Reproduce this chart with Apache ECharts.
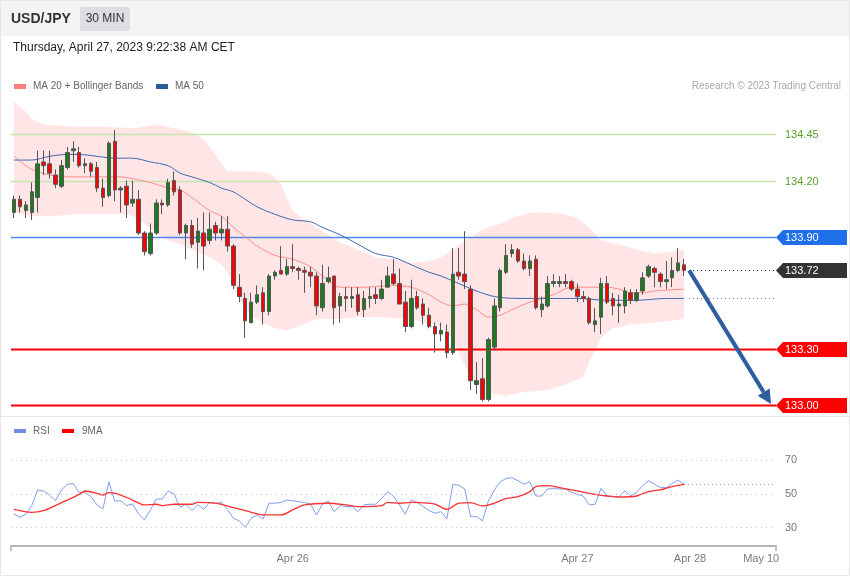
<!DOCTYPE html>
<html><head><meta charset="utf-8">
<script src="https://cdn.jsdelivr.net/npm/echarts@6/dist/echarts.min.js"></script>
<style>html,body{margin:0;padding:0;background:#fff}#c{width:850px;height:576px}</style>
</head><body><div id="c"></div><script>
// ---------- data ----------
const categoryCount = 129;
const xTickIndex = [47, 95, 114, 126];
const xTickLabel = ['Apr 26', 'Apr 27', 'Apr 28', 'May 10'];

const open = [134.03,134.10,134.04,134.03,134.11,134.30,134.29,134.23,134.17,134.27,134.36,134.35,134.28,134.29,134.27,134.16,134.12,134.41,134.15,134.17,
134.08,134.10,133.92,133.81,133.92,134.08,134.07,134.20,134.15,133.92,133.96,133.87,133.92,133.88,133.96,133.92,133.94,133.85,133.63,133.57,
133.44,133.55,133.60,133.50,133.69,133.72,133.70,133.74,133.73,133.72,133.71,133.69,133.52,133.66,133.69,133.53,133.58,133.57,133.59,133.51,
133.57,133.59,133.57,133.63,133.70,133.65,133.55,133.42,133.58,133.54,133.48,133.42,133.38,133.39,133.28,133.71,133.70,133.62,133.11,133.14,
133.03,133.31,133.52,133.71,133.81,133.83,133.77,133.73,133.78,133.51,133.53,133.65,133.65,133.66,133.66,133.62,133.58,133.57,133.43,133.47,
133.65,133.57,133.53,133.53,133.60,133.56,133.61,133.69,133.73,133.70,133.66,133.68,133.72,133.75];
const close = [134.10,134.06,134.07,134.14,134.29,134.28,134.24,134.18,134.28,134.35,134.37,134.28,134.29,134.25,134.16,134.11,134.40,134.15,134.16,134.07,
134.10,133.92,133.82,133.92,134.08,134.07,134.19,134.14,133.92,133.96,133.86,133.93,133.85,133.94,133.92,133.94,133.85,133.64,133.58,133.45,
133.55,133.59,133.50,133.69,133.71,133.70,133.74,133.73,133.72,133.71,133.69,133.53,133.65,133.68,133.52,133.58,133.57,133.58,133.50,133.57,
133.58,133.57,133.62,133.69,133.65,133.54,133.42,133.57,133.52,133.48,133.42,133.38,133.40,133.28,133.70,133.69,133.66,133.13,133.13,133.03,
133.35,133.53,133.72,133.80,133.83,133.77,133.73,133.77,133.52,133.54,133.65,133.66,133.66,133.65,133.62,133.58,133.57,133.44,133.45,133.65,
133.55,133.53,133.54,133.61,133.56,133.60,133.68,133.74,133.71,133.66,133.67,133.72,133.76,133.72];
const low = [134.00,134.03,134.00,133.99,134.03,134.23,134.21,134.16,134.16,134.26,134.30,134.27,134.24,134.22,134.14,134.06,134.11,134.09,134.03,134.00,
134.06,133.91,133.80,133.80,133.91,134.02,134.06,134.12,133.91,133.78,133.84,133.73,133.72,133.86,133.88,133.88,133.82,133.62,133.55,133.36,
133.44,133.54,133.43,133.48,133.67,133.70,133.69,133.71,133.67,133.60,133.63,133.48,133.50,133.65,133.43,133.44,133.50,133.52,133.48,133.47,
133.52,133.54,133.56,133.63,133.64,133.54,133.39,133.41,133.51,133.43,133.41,133.28,133.34,133.25,133.27,133.67,133.62,133.08,133.06,133.02,
133.02,133.29,133.50,133.70,133.79,133.76,133.72,133.69,133.51,133.47,133.52,133.63,133.63,133.63,133.61,133.55,133.55,133.43,133.39,133.38,
133.54,133.48,133.44,133.49,133.54,133.55,133.59,133.68,133.63,133.63,133.62,133.63,133.71,133.69];
const high = [134.12,134.12,134.09,134.19,134.36,134.36,134.36,134.26,134.31,134.38,134.41,134.38,134.32,134.30,134.30,134.21,134.41,134.47,134.17,134.20,
134.20,134.15,133.93,133.97,134.10,134.10,134.21,134.25,134.17,133.97,133.99,134.00,134.03,134.03,133.98,134.01,134.01,133.86,133.70,133.60,
133.60,133.64,133.63,133.70,133.72,133.85,133.78,133.86,133.74,133.74,133.74,133.71,133.75,133.74,133.69,133.60,133.63,133.63,133.63,133.61,
133.63,133.63,133.67,133.74,133.78,133.73,133.61,133.67,133.61,133.57,133.52,133.44,133.44,133.43,133.84,133.84,133.93,133.64,133.23,133.25,
133.36,133.57,133.73,133.86,133.86,133.84,133.81,133.80,133.80,133.58,133.69,133.70,133.69,133.70,133.67,133.65,133.61,133.58,133.52,133.68,
133.69,133.60,133.59,133.63,133.62,133.62,133.71,133.75,133.74,133.71,133.77,133.79,133.84,133.78];

const ma20Idx = [0,2,3,6,9,12,15,18,20,23,26,28,30,33,35,37,39,41,44,47,50,52,55,59,64,67,70,72,74,76,78,80,82,84,87,91,94,97,100,102,104,106,108,113];
const ma20 = [134.33,134.28,134.26,134.23,134.22,134.22,134.22,134.22,134.21,134.19,134.16,134.15,134.11,134.04,134.01,133.95,133.90,133.85,133.80,133.78,
133.74,133.69,133.63,133.63,133.64,133.63,133.59,133.55,133.53,133.54,133.51,133.47,133.48,133.51,133.55,133.59,133.63,133.63,133.63,133.62,133.60,133.60,133.61,133.62];

const ma50Idx = [0,3,6,9,11,14,17,20,23,26,28,30,33,35,37,39,41,44,47,50,52,55,58,61,64,67,70,72,75,78,81,85,90,95,100,105,110,113];
const ma50 = [134.31,134.31,134.33,134.34,134.34,134.33,134.32,134.32,134.30,134.28,134.24,134.22,134.19,134.16,134.14,134.10,134.06,134.02,133.99,133.98,
133.95,133.91,133.86,133.81,133.79,133.75,133.71,133.69,133.65,133.61,133.58,133.57,133.57,133.57,133.56,133.56,133.57,133.57];

const bbUpperIdx = [0,2,3,5,10,15,20,22,24,27,30,32,34,35,36,40,43,44,45,46,47,49,51,53,55,58,61,64,67,70,72,74,76,78,80,82,84,87,90,93,95,97,99,102,105,108,111,113];
const bbUpper = [134.62,134.57,134.53,134.50,134.49,134.49,134.48,134.49,134.50,134.48,134.46,134.42,134.34,134.29,134.25,134.25,134.24,134.22,134.18,134.11,
134.04,133.99,133.95,133.91,133.87,133.83,133.79,133.78,133.76,133.77,133.79,133.83,133.88,133.92,133.95,133.97,134.00,134.03,134.03,134.02,
134.00,133.95,133.88,133.86,133.83,133.81,133.82,133.83];
const bbLowerIdx = [0,3,6,10,15,19,21,23,26,28,30,33,35,36,37,38,40,42,44,46,48,51,55,58,62,66,70,72,74,75,76,77,79,81,83,86,90,93,96,97,98,99,101,104,108,113];
const bbLower = [134.03,134.01,134.01,134.02,134.02,134.02,134.00,133.94,133.88,133.86,133.83,133.79,133.75,133.71,133.64,133.56,133.48,133.44,133.41,133.40,
133.42,133.46,133.46,133.47,133.47,133.46,133.44,133.42,133.35,133.28,133.21,133.15,133.09,133.06,133.05,133.07,133.08,133.11,133.15,133.23,
133.29,133.36,133.41,133.43,133.44,133.46];

const rsi = [38.1,36.1,37.9,43.1,52.4,51.8,49.4,46.0,52.4,55.7,56.3,50.8,51.0,48.4,43.5,41.1,57.3,45.8,46.0,43.1,
44.1,38.1,34.6,40.5,47.0,47.0,51.8,50.0,42.1,43.9,40.1,43.5,40.9,45.0,44.3,45.0,40.9,35.5,34.0,30.2,
35.5,37.5,35.0,44.5,44.5,44.9,46.4,46.0,45.4,44.9,43.9,37.5,43.9,45.8,39.5,43.1,42.5,42.5,39.5,43.5,
43.9,43.9,47.4,51.4,48.8,43.5,37.9,46.4,45.0,42.5,40.1,38.5,39.5,35.1,55.7,55.3,53.0,36.5,36.5,34.0,
45.8,52.4,57.3,59.3,59.7,57.9,55.9,57.3,48.8,48.8,53.0,53.2,53.0,53.0,51.0,49.8,48.8,43.5,43.9,53.4,
48.8,48.4,48.4,51.8,49.0,51.0,55.0,57.9,55.9,53.8,53.8,56.3,58.3,55.7];
const rsiMaIdx = [0,3,5,7,9,11,12,14,15,16,18,20,22,24,25,27,30,31,34,37,40,42,45,47,49,53,56,58,62,63,65,67,70,71,73,75,77,79,81,83,85,87,88,90,92,95,98,100,102,105,107,109,111,113];
const rsiMa = [40.9,39.1,40.1,43.1,46.4,49.8,51.8,50.4,49.4,50.8,49.4,46.4,43.5,43.9,43.1,43.9,43.9,45.0,44.5,41.9,39.1,37.5,37.5,40.5,43.5,44.5,43.5,42.5,43.1,45.0,
44.5,45.0,44.5,43.9,40.9,44.5,44.9,42.9,44.5,47.4,48.4,51.4,54.4,55.0,53.8,51.8,49.8,48.8,48.2,48.8,51.4,52.4,54.4,55.7];
const rsiLevels = [70, 50, 30];

const levelValues = [134.45, 134.20, 133.90, 133.72, 133.30, 133.00];
const levelKinds  = ['res', 'res', 'pivot', 'last', 'sup', 'sup'];
const levelLabels = ['134.45', '134.20', '133.90', '133.72', '133.30', '133.00'];
const arrowTarget = 133.00;

// ---------- chart ----------
const FONT = '"Liberation Sans", Arial, sans-serif';
const cats = Array.from({length: categoryCount}, (_, i) => String(i));
const candles = open.map((o, i) => [o, close[i], low[i], high[i]]);
const pairs = (ix, vs) => ix.map((x, k) => [x, vs[k]]);
const lastIdx = open.length - 1;

const chart = echarts.init(document.getElementById('c'), null, {renderer: 'canvas'});

const tagColor = {pivot: '#1f6feb', last: '#333333', sup: '#ff0000'};

const option = {
  animation: false,
  textStyle: {fontFamily: FONT},
  grid: [
    {left: 11, top: 94.6, width: 765, height: 317.9},
    {left: 11, top: 442, width: 765, height: 104}
  ],
  xAxis: [
    {type: 'category', gridIndex: 0, data: cats, boundaryGap: true, show: false},
    {type: 'category', gridIndex: 1, data: cats, boundaryGap: true,
      axisLine: {show: true, lineStyle: {color: '#b3b3b3', width: 2}},
      axisTick: {show: true, interval: (i) => i === 0, length: 5, lineStyle: {color: '#b3b3b3', width: 1.5}},
      axisLabel: {interval: 0, color: '#7a7a7a', fontSize: 11, margin: 7, fontFamily: FONT,
        formatter: (v, i) => { const k = xTickIndex.indexOf(i); return k >= 0 ? xTickLabel[k] : ''; }},
      splitLine: {show: false}}
  ],
  yAxis: [
    {type: 'value', gridIndex: 0, min: 132.96, max: 134.66, show: false, splitLine: {show: false}},
    {type: 'value', gridIndex: 1, min: 19, max: 81, show: false, splitLine: {show: false}}
  ],
  graphic: [
    {type: 'rect', shape: {x: 0.5, y: 0.5, width: 849, height: 575}, style: {fill: 'none', stroke: '#e6e6e6'}, z: 0, silent: true},
    {type: 'rect', shape: {x: 1, y: 1, width: 848, height: 35}, style: {fill: '#f4f4f4'}, silent: true},
    {type: 'text', x: 11, y: 19, style: {text: 'USD/JPY', font: 'bold 14px ' + FONT, fill: '#333', verticalAlign: 'middle'}},
    {type: 'rect', shape: {x: 80, y: 7, width: 50, height: 24, r: 2}, style: {fill: '#dcdee2'}},
    {type: 'text', x: 105, y: 19, style: {text: '30 MIN', font: '12px ' + FONT, fill: '#333', align: 'center', verticalAlign: 'middle'}},
    {type: 'text', x: 13, y: 48, style: {text: 'Thursday, April 27, 2023 9:22:38 AM CET', font: '12px ' + FONT, fill: '#222', verticalAlign: 'middle'}},
    {type: 'rect', shape: {x: 14, y: 84, width: 12, height: 5}, style: {fill: '#ff8080'}},
    {type: 'text', x: 33, y: 86.5, style: {text: 'MA 20 + Bollinger Bands', font: '10px ' + FONT, fill: '#666', verticalAlign: 'middle'}},
    {type: 'rect', shape: {x: 156, y: 84, width: 12, height: 5}, style: {fill: '#2d5c9a'}},
    {type: 'text', x: 175, y: 86.5, style: {text: 'MA 50', font: '10px ' + FONT, fill: '#666', verticalAlign: 'middle'}},
    {type: 'text', x: 841, y: 86.5, style: {text: 'Research \u00a9 2023 Trading Central', font: '10px ' + FONT, fill: '#a8a8a8', align: 'right', verticalAlign: 'middle'}},
    {type: 'line', shape: {x1: 1, y1: 416.5, x2: 849, y2: 416.5}, style: {stroke: '#e6e6e6', lineWidth: 1}},
    {type: 'rect', shape: {x: 14, y: 429, width: 12, height: 4}, style: {fill: '#6f8fe6'}},
    {type: 'text', x: 33, y: 431.5, style: {text: 'RSI', font: '10px ' + FONT, fill: '#666', verticalAlign: 'middle'}},
    {type: 'rect', shape: {x: 62, y: 429, width: 12, height: 4}, style: {fill: '#ff0000'}},
    {type: 'text', x: 82, y: 431.5, style: {text: '9MA', font: '10px ' + FONT, fill: '#666', verticalAlign: 'middle'}}
  ],
  series: [
    // Bollinger band fill
    {type: 'custom', xAxisIndex: 0, yAxisIndex: 0, silent: true, z: 1, data: [[0, bbUpper[0]]],
      renderItem: (params, api) => {
        const pts = [];
        bbUpperIdx.forEach((ix, k) => pts.push(api.coord([ix, bbUpper[k]])));
        for (let k = bbLowerIdx.length - 1; k >= 0; k--) pts.push(api.coord([bbLowerIdx[k], bbLower[k]]));
        return {type: 'polygon', shape: {points: pts}, style: {fill: 'rgba(255,0,0,0.1)'}};
      }},
    // level lines
    {type: 'custom', xAxisIndex: 0, yAxisIndex: 0, silent: true, z: 2, clip: false,
      data: levelValues.map(v => [0, v]),
      renderItem: (params, api) => {
        const kind = levelKinds[params.dataIndex];
        const cs = params.coordSys;
        const y = Math.round(api.coord([0, api.value(1)])[1]) + 0.5;
        const xL = cs.x, xR = cs.x + cs.width;
        if (kind === 'res') return {type: 'line', shape: {x1: xL, y1: y, x2: xR, y2: y}, style: {stroke: '#c6e4ae', lineWidth: 1.5}};
        if (kind === 'pivot') return {type: 'line', shape: {x1: xL, y1: y, x2: xR, y2: y}, style: {stroke: '#4f87ee', lineWidth: 1.5}};
        if (kind === 'sup') return {type: 'line', shape: {x1: xL, y1: y, x2: xR, y2: y}, style: {stroke: '#ff0000', lineWidth: 2}};
        const xs = api.coord([lastIdx, 0])[0] + 5;
        return {type: 'line', shape: {x1: xs, y1: y, x2: xR, y2: y}, style: {stroke: '#333', lineWidth: 1, lineDash: [1, 3]}};
      }},
    // MA50 extension (dotted)
    {type: 'custom', xAxisIndex: 0, yAxisIndex: 0, silent: true, z: 2, clip: false,
      data: [[lastIdx, ma50[ma50.length - 1]]],
      renderItem: (params, api) => {
        const cs = params.coordSys;
        const p = api.coord([lastIdx, api.value(1)]);
        const y = Math.round(p[1]) + 0.5;
        return {type: 'line', shape: {x1: p[0] + 5, y1: y, x2: cs.x + cs.width, y2: y}, style: {stroke: '#4a72b8', lineWidth: 1, lineDash: [1, 3]}};
      }},
    {type: 'line', xAxisIndex: 0, yAxisIndex: 0, data: pairs(ma20Idx, ma20), symbol: 'none', smooth: 0.3, z: 3,
      lineStyle: {color: '#ff8a8a', width: 1}},
    {type: 'line', xAxisIndex: 0, yAxisIndex: 0, data: pairs(ma50Idx, ma50), symbol: 'none', smooth: 0.3, z: 3,
      lineStyle: {color: '#3d68ad', width: 1}},
    {type: 'candlestick', xAxisIndex: 0, yAxisIndex: 0, data: candles, barWidth: 4, z: 4,
      itemStyle: {color: '#1d7a1d', color0: '#ff0000', borderColor: '#555', borderColor0: '#555', borderWidth: 1}},
    // level tags
    {type: 'custom', xAxisIndex: 0, yAxisIndex: 0, silent: true, z: 6, clip: false,
      data: levelValues.map(v => [0, v]),
      renderItem: (params, api) => {
        const i = params.dataIndex, kind = levelKinds[i];
        const cs = params.coordSys;
        const y = Math.round(api.coord([0, api.value(1)])[1]) + 0.5;
        const xR = cs.x + cs.width;
        if (kind === 'res') {
          return {type: 'text', style: {x: xR + 9, y: y, text: levelLabels[i], font: '11px ' + FONT, fill: '#5aa02c', verticalAlign: 'middle'}};
        }
        return {type: 'group', children: [
          {type: 'polygon', shape: {points: [[xR, y], [xR + 7, y - 7.5], [xR + 71, y - 7.5], [xR + 71, y + 7.5], [xR + 7, y + 7.5]]},
            style: {fill: tagColor[kind]}},
          {type: 'text', style: {x: xR + 9, y: y, text: levelLabels[i], font: '11px ' + FONT, fill: '#fff', verticalAlign: 'middle'}}
        ]};
      }},
    // forecast arrow
    {type: 'custom', xAxisIndex: 0, yAxisIndex: 0, silent: true, z: 7, clip: false,
      data: [[lastIdx, close[lastIdx]]],
      renderItem: (params, api) => {
        const cs = params.coordSys;
        const s = api.coord([lastIdx, api.value(1)]);
        const x1 = s[0] + 5, y1 = s[1];
        const x2 = cs.x + cs.width - 5, y2 = api.coord([0, arrowTarget])[1] - 1;
        const dx = x2 - x1, dy = y2 - y1, L = Math.sqrt(dx * dx + dy * dy);
        const ux = dx / L, uy = dy / L, hl = 14, hw = 7;
        const bx = x2 - ux * hl, by = y2 - uy * hl;
        return {type: 'group', children: [
          {type: 'line', shape: {x1: x1, y1: y1, x2: bx, y2: by}, style: {stroke: '#2f5e9e', lineWidth: 4}},
          {type: 'polygon', shape: {points: [[x2, y2], [bx - uy * hw, by + ux * hw], [bx + uy * hw, by - ux * hw]]}, style: {fill: '#2f5e9e'}}
        ]};
      }},
    // RSI panel
    {type: 'line', xAxisIndex: 1, yAxisIndex: 1, data: rsi, symbol: 'none', z: 3,
      lineStyle: {color: '#7f9ded', width: 1},
      markLine: {silent: true, symbol: 'none', data: rsiLevels.map(v => ({yAxis: v})),
        lineStyle: {color: '#c4c4c4', width: 1, type: [1, 4]},
        label: {position: 'end', formatter: '{c}', color: '#777', fontSize: 11, distance: 9, fontFamily: FONT}}},
    {type: 'line', xAxisIndex: 1, yAxisIndex: 1, data: pairs(rsiMaIdx, rsiMa), symbol: 'none', smooth: 0.3, z: 4,
      lineStyle: {color: '#ff3030', width: 1.3}},
    {type: 'custom', xAxisIndex: 1, yAxisIndex: 1, silent: true, z: 3, clip: false,
      data: [[lastIdx, rsi[lastIdx]]],
      renderItem: (params, api) => {
        const cs = params.coordSys;
        const p = api.coord([lastIdx, api.value(1)]);
        const y = Math.round(p[1]) + 0.5;
        return {type: 'line', shape: {x1: p[0], y1: y, x2: cs.x + cs.width, y2: y}, style: {stroke: '#7f9ded', lineWidth: 1, lineDash: [1, 3]}};
      }}
  ]
};
chart.setOption(option);
</script></body></html>
